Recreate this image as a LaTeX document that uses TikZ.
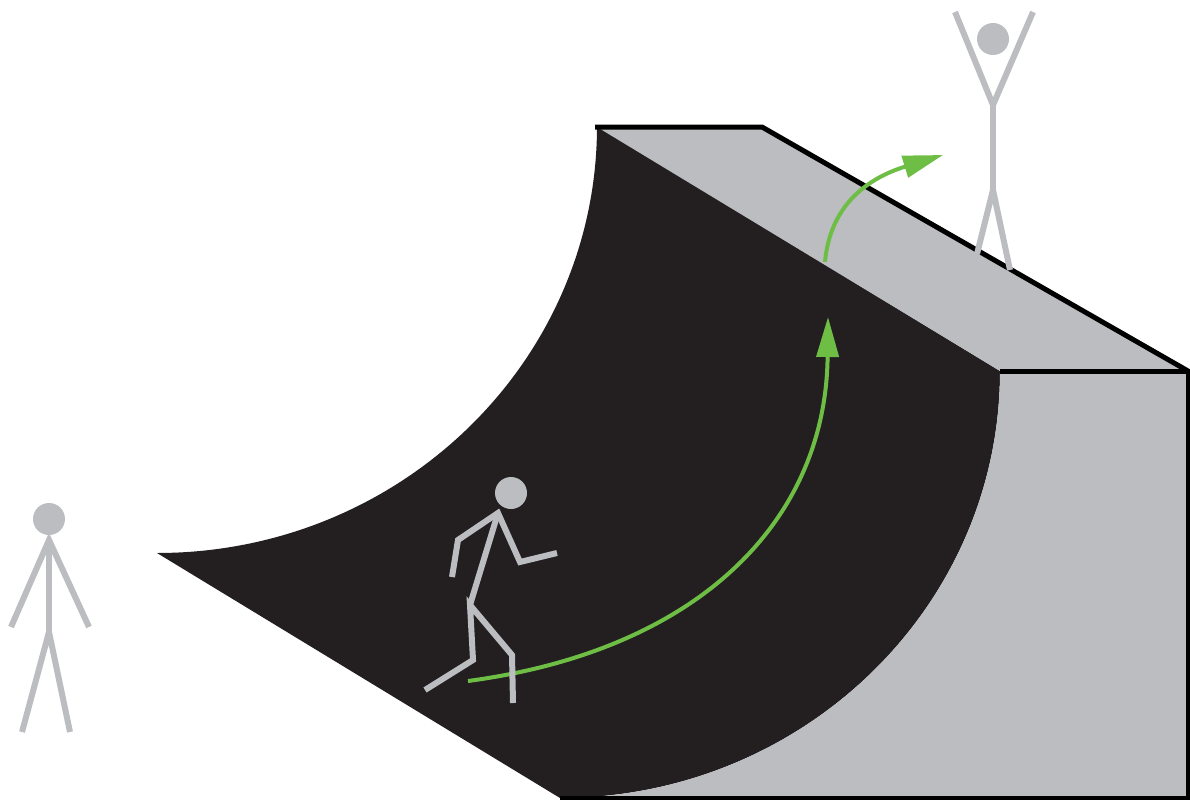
\documentclass[tikz,border=0pt]{standalone}
\usepackage{tikz}
\usetikzlibrary{arrows.meta}

\definecolor{rampdark}{RGB}{35,31,32}
\definecolor{rampgrey}{RGB}{188,189,193}
\definecolor{pathgreen}{RGB}{110,190,70}

\begin{document}
\begin{tikzpicture}[x=1pt, y=-1pt,
    stick/.style={draw=rampgrey, line width=6pt},
    edge/.style={draw=black, line width=5pt},
    rideline/.style={draw=pathgreen, line width=4pt, -{Triangle[length=40pt, width=22pt]}}]
  \useasboundingbox (0,0) rectangle (1190,800);

  % riding surface and the two grey sides
  \fill[rampdark] (597,126) -- (1000,371) .. controls (1000,607) and (803,798) .. (560,798)
    -- (157,553) .. controls (400,553) and (597,362) .. (597,126) -- cycle;
  \fill[rampgrey] (597,127) -- (762,127) -- (1188,371) -- (1000,371) -- cycle;
  \fill[rampgrey] (1000,371) -- (1188,371) -- (1188,798) -- (560,798)
    .. controls (803,798) and (1000,607) .. (1000,371) -- cycle;
  \draw[edge] (595,127) -- (762,127) -- (1188,371);
  \draw[edge] (1000,371) -- (1188,371);
  \draw[edge, line width=3.5pt] (1188,369) -- (1188,798) -- (560,798);

  % paths of the rider
  \draw[rideline] (468,681) .. controls (700,650) and (826,520) .. (828,317);
  \draw[rideline] (825,262) .. controls (830,205) and (868,178) .. (943,155);

  % onlooker on the ground
  \fill[rampgrey] (49,519) circle (16pt);
  \draw[stick] (11,627) -- (49,540) -- (89,627);
  \draw[stick] (49,540) -- (49,632);
  \draw[stick] (22,732) -- (49,632) -- (70,732);

  % rider
  \fill[rampgrey] (511,493) circle (16pt);
  \draw[stick] (452,577) -- (458,540) -- (498,513) -- (520,562) -- (557,553);
  \draw[stick] (498,513) -- (470,605);
  \draw[stick] (425,690) -- (473,660) -- (470,605) -- (512,655) -- (513,703);

  % onlooker on the deck
  \fill[rampgrey] (993,39) circle (16pt);
  \draw[stick] (955,12) -- (993,105) -- (1033,12);
  \draw[stick] (993,105) -- (993,190);
  \draw[stick] (977,254) -- (993,190) -- (1010,270);
\end{tikzpicture}
\end{document}
